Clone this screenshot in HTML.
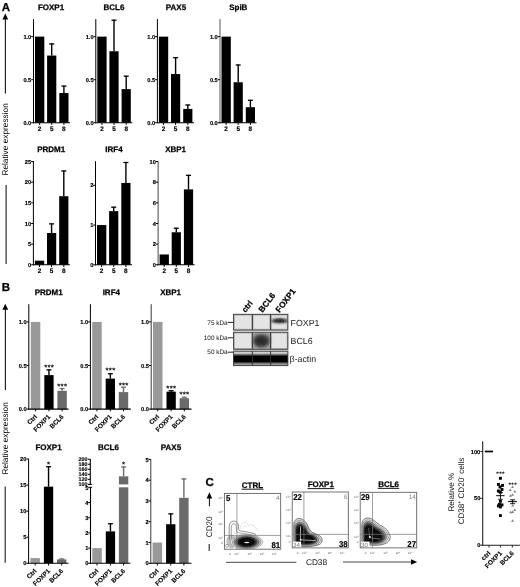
<!DOCTYPE html>
<html lang="en"><head><meta charset="utf-8"><title>Figure</title>
<style>html,body{margin:0;padding:0;background:#fff}svg{display:block}text{font-family:"Liberation Sans", sans-serif;text-rendering:geometricPrecision}</style></head><body>
<svg width="520" height="587" viewBox="0 0 520 587">
<defs><filter id="b1" x="-30%" y="-30%" width="160%" height="160%"><feGaussianBlur stdDeviation="0.9"/></filter><filter id="b2" x="-30%" y="-30%" width="160%" height="160%"><feGaussianBlur stdDeviation="1.6"/></filter><filter id="b03" x="-10%" y="-10%" width="120%" height="120%"><feGaussianBlur stdDeviation="0.35"/></filter><filter id="b07" x="-20%" y="-20%" width="140%" height="140%"><feGaussianBlur stdDeviation="0.8"/></filter><filter id="soft" x="0" y="0" width="520" height="587" filterUnits="userSpaceOnUse"><feGaussianBlur stdDeviation="0.35"/></filter><filter id="b05" x="-30%" y="-30%" width="160%" height="160%"><feGaussianBlur stdDeviation="0.5"/></filter></defs>
<rect x="0" y="0" width="520" height="587" fill="#fff" />
<g filter="url(#soft)">
<text x="1.8" y="10.6" font-size="11.5" text-anchor="start" font-weight="bold" fill="#000"  stroke="#000" stroke-width="0.25">A</text>
<text x="1.8" y="291.2" font-size="11.5" text-anchor="start" font-weight="bold" fill="#000"  stroke="#000" stroke-width="0.25">B</text>
<text x="205.5" y="486.4" font-size="11.5" text-anchor="start" font-weight="bold" fill="#000"  stroke="#000" stroke-width="0.25">C</text>
<polygon points="5.3,13.5 2.4,19.5 8.2,19.5" fill="#000"/>
<line x1="5.4" y1="18.5" x2="5.4" y2="93.5" stroke="#1a1a1a" stroke-width="1.1" />
<text transform="translate(7.5 139.4) rotate(-90)" font-size="8.3" text-anchor="middle" font-weight="normal" fill="#000">Relative expression</text>
<line x1="6.1" y1="185" x2="6.1" y2="264" stroke="#1a1a1a" stroke-width="1.1" />
<polygon points="5.3,303.7 2.4,309.7 8.2,309.7" fill="#000"/>
<line x1="5.4" y1="308.7" x2="5.4" y2="390" stroke="#1a1a1a" stroke-width="1.1" />
<text transform="translate(7.5 438.4) rotate(-90)" font-size="8.3" text-anchor="middle" font-weight="normal" fill="#000">Relative expression</text>
<line x1="5.2" y1="486.4" x2="5.2" y2="562.8" stroke="#1a1a1a" stroke-width="1.1" />
<text x="51" y="9.9" font-size="8" text-anchor="middle" font-weight="bold" fill="#000"  stroke="#000" stroke-width="0.25">FOXP1</text>
<rect x="35" y="36.62" width="9.3" height="86.08" fill="#000" />
<line x1="51.7" y1="55.55" x2="51.7" y2="43.5" stroke="#000" stroke-width="1.4" />
<line x1="49.2" y1="43.9" x2="54.2" y2="43.9" stroke="#000" stroke-width="1.3" />
<rect x="47.1" y="55.55" width="9.2" height="67.15" fill="#000" />
<line x1="63.9" y1="93" x2="63.9" y2="85.68" stroke="#000" stroke-width="1.4" />
<line x1="61.4" y1="86.08" x2="66.4" y2="86.08" stroke="#000" stroke-width="1.3" />
<rect x="59.3" y="93" width="9.2" height="29.7" fill="#000" />
<line x1="33.5" y1="19.1" x2="33.5" y2="123.2" stroke="#000" stroke-width="1" />
<line x1="33" y1="122.7" x2="70" y2="122.7" stroke="#000" stroke-width="1.1" />
<line x1="31.2" y1="122.7" x2="33.5" y2="122.7" stroke="#000" stroke-width="1" />
<text x="31.3" y="124.8" font-size="5.7" text-anchor="end" font-weight="bold" fill="#000"  stroke="#000" stroke-width="0.15">0.0</text>
<line x1="31.2" y1="79.66" x2="33.5" y2="79.66" stroke="#000" stroke-width="1" />
<text x="31.3" y="81.76" font-size="5.7" text-anchor="end" font-weight="bold" fill="#000"  stroke="#000" stroke-width="0.15">0.5</text>
<line x1="31.2" y1="36.62" x2="33.5" y2="36.62" stroke="#000" stroke-width="1" />
<text x="31.3" y="38.72" font-size="5.7" text-anchor="end" font-weight="bold" fill="#000"  stroke="#000" stroke-width="0.15">1.0</text>
<line x1="39.65" y1="122.7" x2="39.65" y2="124.9" stroke="#000" stroke-width="1" />
<text x="39.65" y="131.1" font-size="6.4" text-anchor="middle" font-weight="bold" fill="#000"  stroke="#000" stroke-width="0.15">2</text>
<line x1="51.7" y1="122.7" x2="51.7" y2="124.9" stroke="#000" stroke-width="1" />
<text x="51.7" y="131.1" font-size="6.4" text-anchor="middle" font-weight="bold" fill="#000"  stroke="#000" stroke-width="0.15">5</text>
<line x1="63.9" y1="122.7" x2="63.9" y2="124.9" stroke="#000" stroke-width="1" />
<text x="63.9" y="131.1" font-size="6.4" text-anchor="middle" font-weight="bold" fill="#000"  stroke="#000" stroke-width="0.15">8</text>
<text x="114" y="9.9" font-size="8" text-anchor="middle" font-weight="bold" fill="#000"  stroke="#000" stroke-width="0.25">BCL6</text>
<rect x="97.3" y="36.62" width="9.3" height="86.08" fill="#000" />
<line x1="114" y1="51.25" x2="114" y2="19.83" stroke="#000" stroke-width="1.4" />
<line x1="111.5" y1="20.23" x2="116.5" y2="20.23" stroke="#000" stroke-width="1.3" />
<rect x="109.4" y="51.25" width="9.2" height="71.45" fill="#000" />
<line x1="126.2" y1="89.13" x2="126.2" y2="75.78" stroke="#000" stroke-width="1.4" />
<line x1="123.7" y1="76.18" x2="128.7" y2="76.18" stroke="#000" stroke-width="1.3" />
<rect x="121.6" y="89.13" width="9.2" height="33.57" fill="#000" />
<line x1="95.8" y1="19.1" x2="95.8" y2="123.2" stroke="#000" stroke-width="1" />
<line x1="95.3" y1="122.7" x2="132.3" y2="122.7" stroke="#000" stroke-width="1.1" />
<line x1="93.5" y1="122.7" x2="95.8" y2="122.7" stroke="#000" stroke-width="1" />
<text x="93.6" y="124.8" font-size="5.7" text-anchor="end" font-weight="bold" fill="#000"  stroke="#000" stroke-width="0.15">0.0</text>
<line x1="93.5" y1="79.66" x2="95.8" y2="79.66" stroke="#000" stroke-width="1" />
<text x="93.6" y="81.76" font-size="5.7" text-anchor="end" font-weight="bold" fill="#000"  stroke="#000" stroke-width="0.15">0.5</text>
<line x1="93.5" y1="36.62" x2="95.8" y2="36.62" stroke="#000" stroke-width="1" />
<text x="93.6" y="38.72" font-size="5.7" text-anchor="end" font-weight="bold" fill="#000"  stroke="#000" stroke-width="0.15">1.0</text>
<line x1="101.95" y1="122.7" x2="101.95" y2="124.9" stroke="#000" stroke-width="1" />
<text x="101.95" y="131.1" font-size="6.4" text-anchor="middle" font-weight="bold" fill="#000"  stroke="#000" stroke-width="0.15">2</text>
<line x1="114" y1="122.7" x2="114" y2="124.9" stroke="#000" stroke-width="1" />
<text x="114" y="131.1" font-size="6.4" text-anchor="middle" font-weight="bold" fill="#000"  stroke="#000" stroke-width="0.15">5</text>
<line x1="126.2" y1="122.7" x2="126.2" y2="124.9" stroke="#000" stroke-width="1" />
<text x="126.2" y="131.1" font-size="6.4" text-anchor="middle" font-weight="bold" fill="#000"  stroke="#000" stroke-width="0.15">8</text>
<text x="176" y="9.9" font-size="8" text-anchor="middle" font-weight="bold" fill="#000"  stroke="#000" stroke-width="0.25">PAX5</text>
<rect x="158.9" y="36.62" width="9.3" height="86.08" fill="#000" />
<line x1="175.6" y1="74.06" x2="175.6" y2="57.28" stroke="#000" stroke-width="1.4" />
<line x1="173.1" y1="57.68" x2="178.1" y2="57.68" stroke="#000" stroke-width="1.3" />
<rect x="171" y="74.06" width="9.2" height="48.64" fill="#000" />
<line x1="187.8" y1="108.93" x2="187.8" y2="104.62" stroke="#000" stroke-width="1.4" />
<line x1="185.3" y1="105.02" x2="190.3" y2="105.02" stroke="#000" stroke-width="1.3" />
<rect x="183.2" y="108.93" width="9.2" height="13.77" fill="#000" />
<line x1="157.4" y1="19.1" x2="157.4" y2="123.2" stroke="#000" stroke-width="1" />
<line x1="156.9" y1="122.7" x2="193.9" y2="122.7" stroke="#000" stroke-width="1.1" />
<line x1="155.1" y1="122.7" x2="157.4" y2="122.7" stroke="#000" stroke-width="1" />
<text x="155.2" y="124.8" font-size="5.7" text-anchor="end" font-weight="bold" fill="#000"  stroke="#000" stroke-width="0.15">0.0</text>
<line x1="155.1" y1="79.66" x2="157.4" y2="79.66" stroke="#000" stroke-width="1" />
<text x="155.2" y="81.76" font-size="5.7" text-anchor="end" font-weight="bold" fill="#000"  stroke="#000" stroke-width="0.15">0.5</text>
<line x1="155.1" y1="36.62" x2="157.4" y2="36.62" stroke="#000" stroke-width="1" />
<text x="155.2" y="38.72" font-size="5.7" text-anchor="end" font-weight="bold" fill="#000"  stroke="#000" stroke-width="0.15">1.0</text>
<line x1="163.55" y1="122.7" x2="163.55" y2="124.9" stroke="#000" stroke-width="1" />
<text x="163.55" y="131.1" font-size="6.4" text-anchor="middle" font-weight="bold" fill="#000"  stroke="#000" stroke-width="0.15">2</text>
<line x1="175.6" y1="122.7" x2="175.6" y2="124.9" stroke="#000" stroke-width="1" />
<text x="175.6" y="131.1" font-size="6.4" text-anchor="middle" font-weight="bold" fill="#000"  stroke="#000" stroke-width="0.15">5</text>
<line x1="187.8" y1="122.7" x2="187.8" y2="124.9" stroke="#000" stroke-width="1" />
<text x="187.8" y="131.1" font-size="6.4" text-anchor="middle" font-weight="bold" fill="#000"  stroke="#000" stroke-width="0.15">8</text>
<text x="238.3" y="9.9" font-size="8" text-anchor="middle" font-weight="bold" fill="#000"  stroke="#000" stroke-width="0.25">SpiB</text>
<rect x="221.5" y="36.62" width="9.3" height="86.08" fill="#000" />
<line x1="238.2" y1="82.24" x2="238.2" y2="64.59" stroke="#000" stroke-width="1.4" />
<line x1="235.7" y1="64.99" x2="240.7" y2="64.99" stroke="#000" stroke-width="1.3" />
<rect x="233.6" y="82.24" width="9.2" height="40.46" fill="#000" />
<line x1="250.4" y1="107.2" x2="250.4" y2="99.89" stroke="#000" stroke-width="1.4" />
<line x1="247.9" y1="100.29" x2="252.9" y2="100.29" stroke="#000" stroke-width="1.3" />
<rect x="245.8" y="107.2" width="9.2" height="15.5" fill="#000" />
<line x1="220" y1="19.1" x2="220" y2="123.2" stroke="#585858" stroke-width="1" />
<line x1="219.5" y1="122.7" x2="256.5" y2="122.7" stroke="#000" stroke-width="1.1" />
<line x1="217.7" y1="122.7" x2="220" y2="122.7" stroke="#000" stroke-width="1" />
<text x="217.8" y="124.8" font-size="5.7" text-anchor="end" font-weight="bold" fill="#000"  stroke="#000" stroke-width="0.15">0.0</text>
<line x1="217.7" y1="79.66" x2="220" y2="79.66" stroke="#000" stroke-width="1" />
<text x="217.8" y="81.76" font-size="5.7" text-anchor="end" font-weight="bold" fill="#000"  stroke="#000" stroke-width="0.15">0.5</text>
<line x1="217.7" y1="36.62" x2="220" y2="36.62" stroke="#000" stroke-width="1" />
<text x="217.8" y="38.72" font-size="5.7" text-anchor="end" font-weight="bold" fill="#000"  stroke="#000" stroke-width="0.15">1.0</text>
<line x1="226.15" y1="122.7" x2="226.15" y2="124.9" stroke="#000" stroke-width="1" />
<text x="226.15" y="131.1" font-size="6.4" text-anchor="middle" font-weight="bold" fill="#000"  stroke="#000" stroke-width="0.15">2</text>
<line x1="238.2" y1="122.7" x2="238.2" y2="124.9" stroke="#000" stroke-width="1" />
<text x="238.2" y="131.1" font-size="6.4" text-anchor="middle" font-weight="bold" fill="#000"  stroke="#000" stroke-width="0.15">5</text>
<line x1="250.4" y1="122.7" x2="250.4" y2="124.9" stroke="#000" stroke-width="1" />
<text x="250.4" y="131.1" font-size="6.4" text-anchor="middle" font-weight="bold" fill="#000"  stroke="#000" stroke-width="0.15">8</text>
<text x="51.2" y="152" font-size="8" text-anchor="middle" font-weight="bold" fill="#000"  stroke="#000" stroke-width="0.25">PRDM1</text>
<rect x="34.9" y="260.67" width="9.3" height="4.13" fill="#000" />
<line x1="51.6" y1="232.98" x2="51.6" y2="223.48" stroke="#000" stroke-width="1.4" />
<line x1="49.1" y1="223.88" x2="54.1" y2="223.88" stroke="#000" stroke-width="1.3" />
<rect x="47" y="232.98" width="9.2" height="31.82" fill="#000" />
<line x1="63.8" y1="196.21" x2="63.8" y2="170.59" stroke="#000" stroke-width="1.4" />
<line x1="61.3" y1="170.99" x2="66.3" y2="170.99" stroke="#000" stroke-width="1.3" />
<rect x="59.2" y="196.21" width="9.2" height="68.59" fill="#000" />
<line x1="33.4" y1="161.2" x2="33.4" y2="265.3" stroke="#000" stroke-width="1" />
<line x1="32.9" y1="264.8" x2="69.9" y2="264.8" stroke="#000" stroke-width="1.1" />
<line x1="31.1" y1="264.8" x2="33.4" y2="264.8" stroke="#000" stroke-width="1" />
<text x="31.2" y="266.9" font-size="5.7" text-anchor="end" font-weight="bold" fill="#000"  stroke="#000" stroke-width="0.15">0</text>
<line x1="31.1" y1="244.14" x2="33.4" y2="244.14" stroke="#000" stroke-width="1" />
<text x="31.2" y="246.24" font-size="5.7" text-anchor="end" font-weight="bold" fill="#000"  stroke="#000" stroke-width="0.15">5</text>
<line x1="31.1" y1="223.48" x2="33.4" y2="223.48" stroke="#000" stroke-width="1" />
<text x="31.2" y="225.58" font-size="5.7" text-anchor="end" font-weight="bold" fill="#000"  stroke="#000" stroke-width="0.15">10</text>
<line x1="31.1" y1="202.82" x2="33.4" y2="202.82" stroke="#000" stroke-width="1" />
<text x="31.2" y="204.92" font-size="5.7" text-anchor="end" font-weight="bold" fill="#000"  stroke="#000" stroke-width="0.15">15</text>
<line x1="31.1" y1="182.16" x2="33.4" y2="182.16" stroke="#000" stroke-width="1" />
<text x="31.2" y="184.26" font-size="5.7" text-anchor="end" font-weight="bold" fill="#000"  stroke="#000" stroke-width="0.15">20</text>
<line x1="31.1" y1="161.5" x2="33.4" y2="161.5" stroke="#000" stroke-width="1" />
<text x="31.2" y="163.6" font-size="5.7" text-anchor="end" font-weight="bold" fill="#000"  stroke="#000" stroke-width="0.15">25</text>
<line x1="39.55" y1="264.8" x2="39.55" y2="267" stroke="#000" stroke-width="1" />
<text x="39.55" y="273.2" font-size="6.4" text-anchor="middle" font-weight="bold" fill="#000"  stroke="#000" stroke-width="0.15">2</text>
<line x1="51.6" y1="264.8" x2="51.6" y2="267" stroke="#000" stroke-width="1" />
<text x="51.6" y="273.2" font-size="6.4" text-anchor="middle" font-weight="bold" fill="#000"  stroke="#000" stroke-width="0.15">5</text>
<line x1="63.8" y1="264.8" x2="63.8" y2="267" stroke="#000" stroke-width="1" />
<text x="63.8" y="273.2" font-size="6.4" text-anchor="middle" font-weight="bold" fill="#000"  stroke="#000" stroke-width="0.15">8</text>
<text x="114" y="152" font-size="8" text-anchor="middle" font-weight="bold" fill="#000"  stroke="#000" stroke-width="0.25">IRF4</text>
<rect x="97" y="225.07" width="9.3" height="39.73" fill="#000" />
<line x1="113.7" y1="211.16" x2="113.7" y2="206.79" stroke="#000" stroke-width="1.4" />
<line x1="111.2" y1="207.19" x2="116.2" y2="207.19" stroke="#000" stroke-width="1.3" />
<rect x="109.1" y="211.16" width="9.2" height="53.64" fill="#000" />
<line x1="125.9" y1="182.95" x2="125.9" y2="162.1" stroke="#000" stroke-width="1.4" />
<line x1="123.4" y1="162.5" x2="128.4" y2="162.5" stroke="#000" stroke-width="1.3" />
<rect x="121.3" y="182.95" width="9.2" height="81.85" fill="#000" />
<line x1="95.5" y1="161.2" x2="95.5" y2="265.3" stroke="#000" stroke-width="1" />
<line x1="95" y1="264.8" x2="132" y2="264.8" stroke="#000" stroke-width="1.1" />
<line x1="93.2" y1="264.8" x2="95.5" y2="264.8" stroke="#000" stroke-width="1" />
<text x="93.3" y="266.9" font-size="5.7" text-anchor="end" font-weight="bold" fill="#000"  stroke="#000" stroke-width="0.15">0</text>
<line x1="93.2" y1="225.07" x2="95.5" y2="225.07" stroke="#000" stroke-width="1" />
<text x="93.3" y="227.17" font-size="5.7" text-anchor="end" font-weight="bold" fill="#000"  stroke="#000" stroke-width="0.15">1</text>
<line x1="93.2" y1="185.34" x2="95.5" y2="185.34" stroke="#000" stroke-width="1" />
<text x="93.3" y="187.44" font-size="5.7" text-anchor="end" font-weight="bold" fill="#000"  stroke="#000" stroke-width="0.15">2</text>
<line x1="101.65" y1="264.8" x2="101.65" y2="267" stroke="#000" stroke-width="1" />
<text x="101.65" y="273.2" font-size="6.4" text-anchor="middle" font-weight="bold" fill="#000"  stroke="#000" stroke-width="0.15">2</text>
<line x1="113.7" y1="264.8" x2="113.7" y2="267" stroke="#000" stroke-width="1" />
<text x="113.7" y="273.2" font-size="6.4" text-anchor="middle" font-weight="bold" fill="#000"  stroke="#000" stroke-width="0.15">5</text>
<line x1="125.9" y1="264.8" x2="125.9" y2="267" stroke="#000" stroke-width="1" />
<text x="125.9" y="273.2" font-size="6.4" text-anchor="middle" font-weight="bold" fill="#000"  stroke="#000" stroke-width="0.15">8</text>
<text x="175.6" y="152" font-size="8" text-anchor="middle" font-weight="bold" fill="#000"  stroke="#000" stroke-width="0.25">XBP1</text>
<rect x="159.6" y="254.47" width="9.3" height="10.33" fill="#000" />
<line x1="176.3" y1="232.26" x2="176.3" y2="227.82" stroke="#000" stroke-width="1.4" />
<line x1="173.8" y1="228.22" x2="178.8" y2="228.22" stroke="#000" stroke-width="1.3" />
<rect x="171.7" y="232.26" width="9.2" height="32.54" fill="#000" />
<line x1="188.5" y1="189.39" x2="188.5" y2="174.93" stroke="#000" stroke-width="1.4" />
<line x1="186" y1="175.33" x2="191" y2="175.33" stroke="#000" stroke-width="1.3" />
<rect x="183.9" y="189.39" width="9.2" height="75.41" fill="#000" />
<line x1="158.1" y1="161.2" x2="158.1" y2="265.3" stroke="#444" stroke-width="1" />
<line x1="157.6" y1="264.8" x2="194.6" y2="264.8" stroke="#000" stroke-width="1.1" />
<line x1="155.8" y1="264.8" x2="158.1" y2="264.8" stroke="#000" stroke-width="1" />
<text x="155.9" y="266.9" font-size="5.7" text-anchor="end" font-weight="bold" fill="#000"  stroke="#000" stroke-width="0.15">0</text>
<line x1="155.8" y1="244.14" x2="158.1" y2="244.14" stroke="#000" stroke-width="1" />
<text x="155.9" y="246.24" font-size="5.7" text-anchor="end" font-weight="bold" fill="#000"  stroke="#000" stroke-width="0.15">2</text>
<line x1="155.8" y1="223.48" x2="158.1" y2="223.48" stroke="#000" stroke-width="1" />
<text x="155.9" y="225.58" font-size="5.7" text-anchor="end" font-weight="bold" fill="#000"  stroke="#000" stroke-width="0.15">4</text>
<line x1="155.8" y1="202.82" x2="158.1" y2="202.82" stroke="#000" stroke-width="1" />
<text x="155.9" y="204.92" font-size="5.7" text-anchor="end" font-weight="bold" fill="#000"  stroke="#000" stroke-width="0.15">6</text>
<line x1="155.8" y1="182.16" x2="158.1" y2="182.16" stroke="#000" stroke-width="1" />
<text x="155.9" y="184.26" font-size="5.7" text-anchor="end" font-weight="bold" fill="#000"  stroke="#000" stroke-width="0.15">8</text>
<line x1="155.8" y1="161.5" x2="158.1" y2="161.5" stroke="#000" stroke-width="1" />
<text x="155.9" y="163.6" font-size="5.7" text-anchor="end" font-weight="bold" fill="#000"  stroke="#000" stroke-width="0.15">10</text>
<line x1="164.25" y1="264.8" x2="164.25" y2="267" stroke="#000" stroke-width="1" />
<text x="164.25" y="273.2" font-size="6.4" text-anchor="middle" font-weight="bold" fill="#000"  stroke="#000" stroke-width="0.15">2</text>
<line x1="176.3" y1="264.8" x2="176.3" y2="267" stroke="#000" stroke-width="1" />
<text x="176.3" y="273.2" font-size="6.4" text-anchor="middle" font-weight="bold" fill="#000"  stroke="#000" stroke-width="0.15">5</text>
<line x1="188.5" y1="264.8" x2="188.5" y2="267" stroke="#000" stroke-width="1" />
<text x="188.5" y="273.2" font-size="6.4" text-anchor="middle" font-weight="bold" fill="#000"  stroke="#000" stroke-width="0.15">8</text>
<text x="48.7" y="295.2" font-size="8" text-anchor="middle" font-weight="bold" fill="#000"  stroke="#000" stroke-width="0.25">PRDM1</text>
<rect x="30.8" y="321.93" width="9.5" height="87.17" fill="#999" />
<line x1="48.95" y1="375.11" x2="48.95" y2="369.44" stroke="#000" stroke-width="1.4" />
<line x1="46.45" y1="369.84" x2="51.45" y2="369.84" stroke="#000" stroke-width="1.3" />
<rect x="44.3" y="375.11" width="9.3" height="34" fill="#000" />
<line x1="62.1" y1="390.8" x2="62.1" y2="388.18" stroke="#6a6a6a" stroke-width="1.4" />
<line x1="59.6" y1="388.58" x2="64.6" y2="388.58" stroke="#6a6a6a" stroke-width="1.3" />
<rect x="57.4" y="390.8" width="9.4" height="18.31" fill="#6a6a6a" />
<line x1="28.8" y1="304.2" x2="28.8" y2="409.6" stroke="#000" stroke-width="1" />
<line x1="28.3" y1="409.1" x2="68.5" y2="409.1" stroke="#000" stroke-width="1.1" />
<line x1="26.5" y1="409.1" x2="28.8" y2="409.1" stroke="#000" stroke-width="1" />
<text x="26.6" y="411.2" font-size="5.7" text-anchor="end" font-weight="bold" fill="#000"  stroke="#000" stroke-width="0.15">0.0</text>
<line x1="26.5" y1="365.52" x2="28.8" y2="365.52" stroke="#000" stroke-width="1" />
<text x="26.6" y="367.62" font-size="5.7" text-anchor="end" font-weight="bold" fill="#000"  stroke="#000" stroke-width="0.15">0.5</text>
<line x1="26.5" y1="321.93" x2="28.8" y2="321.93" stroke="#000" stroke-width="1" />
<text x="26.6" y="324.03" font-size="5.7" text-anchor="end" font-weight="bold" fill="#000"  stroke="#000" stroke-width="0.15">1.0</text>
<line x1="35.55" y1="409.1" x2="35.55" y2="411.3" stroke="#000" stroke-width="1" />
<text transform="translate(37.45 417.3) rotate(-45)" font-size="6.4" text-anchor="end" font-weight="bold" fill="#000" stroke="#000" stroke-width="0.15">Ctrl</text>
<line x1="48.95" y1="409.1" x2="48.95" y2="411.3" stroke="#000" stroke-width="1" />
<text transform="translate(50.85 417.3) rotate(-45)" font-size="6.4" text-anchor="end" font-weight="bold" fill="#000" stroke="#000" stroke-width="0.15">FOXP1</text>
<line x1="62.1" y1="409.1" x2="62.1" y2="411.3" stroke="#000" stroke-width="1" />
<text transform="translate(64 417.3) rotate(-45)" font-size="6.4" text-anchor="end" font-weight="bold" fill="#000" stroke="#000" stroke-width="0.15">BCL6</text>
<text x="49.1" y="369.85" font-size="7.8" text-anchor="middle" font-weight="normal" fill="#000" letter-spacing="0.25" stroke="#000" stroke-width="0.12">***</text>
<text x="62.25" y="388.85" font-size="7.8" text-anchor="middle" font-weight="normal" fill="#000" letter-spacing="0.25" stroke="#000" stroke-width="0.12">***</text>
<text x="111.3" y="295.2" font-size="8" text-anchor="middle" font-weight="bold" fill="#000"  stroke="#000" stroke-width="0.25">IRF4</text>
<rect x="92.2" y="321.93" width="9.5" height="87.17" fill="#999" />
<line x1="110.35" y1="378.59" x2="110.35" y2="373.36" stroke="#000" stroke-width="1.4" />
<line x1="107.85" y1="373.76" x2="112.85" y2="373.76" stroke="#000" stroke-width="1.3" />
<rect x="105.7" y="378.59" width="9.3" height="30.51" fill="#000" />
<line x1="123.5" y1="392.1" x2="123.5" y2="386.87" stroke="#6a6a6a" stroke-width="1.4" />
<line x1="121" y1="387.27" x2="126" y2="387.27" stroke="#6a6a6a" stroke-width="1.3" />
<rect x="118.8" y="392.1" width="9.4" height="17" fill="#6a6a6a" />
<line x1="90.4" y1="304.2" x2="90.4" y2="409.6" stroke="#000" stroke-width="1" />
<line x1="89.9" y1="409.1" x2="130.8" y2="409.1" stroke="#000" stroke-width="1.1" />
<line x1="88.1" y1="409.1" x2="90.4" y2="409.1" stroke="#000" stroke-width="1" />
<text x="88.2" y="411.2" font-size="5.7" text-anchor="end" font-weight="bold" fill="#000"  stroke="#000" stroke-width="0.15">0.0</text>
<line x1="88.1" y1="365.52" x2="90.4" y2="365.52" stroke="#000" stroke-width="1" />
<text x="88.2" y="367.62" font-size="5.7" text-anchor="end" font-weight="bold" fill="#000"  stroke="#000" stroke-width="0.15">0.5</text>
<line x1="88.1" y1="321.93" x2="90.4" y2="321.93" stroke="#000" stroke-width="1" />
<text x="88.2" y="324.03" font-size="5.7" text-anchor="end" font-weight="bold" fill="#000"  stroke="#000" stroke-width="0.15">1.0</text>
<line x1="96.95" y1="409.1" x2="96.95" y2="411.3" stroke="#000" stroke-width="1" />
<text transform="translate(98.85 417.3) rotate(-45)" font-size="6.4" text-anchor="end" font-weight="bold" fill="#000" stroke="#000" stroke-width="0.15">Ctrl</text>
<line x1="110.35" y1="409.1" x2="110.35" y2="411.3" stroke="#000" stroke-width="1" />
<text transform="translate(112.25 417.3) rotate(-45)" font-size="6.4" text-anchor="end" font-weight="bold" fill="#000" stroke="#000" stroke-width="0.15">FOXP1</text>
<line x1="123.5" y1="409.1" x2="123.5" y2="411.3" stroke="#000" stroke-width="1" />
<text transform="translate(125.4 417.3) rotate(-45)" font-size="6.4" text-anchor="end" font-weight="bold" fill="#000" stroke="#000" stroke-width="0.15">BCL6</text>
<text x="110.5" y="373.05" font-size="7.8" text-anchor="middle" font-weight="normal" fill="#000" letter-spacing="0.25" stroke="#000" stroke-width="0.12">***</text>
<text x="123.65" y="387.65" font-size="7.8" text-anchor="middle" font-weight="normal" fill="#000" letter-spacing="0.25" stroke="#000" stroke-width="0.12">***</text>
<text x="170.6" y="295.2" font-size="8" text-anchor="middle" font-weight="bold" fill="#000"  stroke="#000" stroke-width="0.25">XBP1</text>
<rect x="153" y="321.93" width="9.5" height="87.17" fill="#999" />
<line x1="171.15" y1="391.67" x2="171.15" y2="390.36" stroke="#000" stroke-width="1.4" />
<line x1="168.65" y1="390.76" x2="173.65" y2="390.76" stroke="#000" stroke-width="1.3" />
<rect x="166.5" y="391.67" width="9.3" height="17.43" fill="#000" />
<line x1="184.3" y1="398.2" x2="184.3" y2="396.9" stroke="#6a6a6a" stroke-width="1.4" />
<line x1="181.8" y1="397.3" x2="186.8" y2="397.3" stroke="#6a6a6a" stroke-width="1.3" />
<rect x="179.6" y="398.2" width="9.4" height="10.9" fill="#6a6a6a" />
<line x1="151.2" y1="304.2" x2="151.2" y2="409.6" stroke="#3a3a3a" stroke-width="1" />
<line x1="150.7" y1="409.1" x2="191.5" y2="409.1" stroke="#000" stroke-width="1.1" />
<line x1="148.9" y1="409.1" x2="151.2" y2="409.1" stroke="#000" stroke-width="1" />
<text x="149" y="411.2" font-size="5.7" text-anchor="end" font-weight="bold" fill="#000"  stroke="#000" stroke-width="0.15">0.0</text>
<line x1="148.9" y1="365.52" x2="151.2" y2="365.52" stroke="#000" stroke-width="1" />
<text x="149" y="367.62" font-size="5.7" text-anchor="end" font-weight="bold" fill="#000"  stroke="#000" stroke-width="0.15">0.5</text>
<line x1="148.9" y1="321.93" x2="151.2" y2="321.93" stroke="#000" stroke-width="1" />
<text x="149" y="324.03" font-size="5.7" text-anchor="end" font-weight="bold" fill="#000"  stroke="#000" stroke-width="0.15">1.0</text>
<line x1="157.75" y1="409.1" x2="157.75" y2="411.3" stroke="#000" stroke-width="1" />
<text transform="translate(159.65 417.3) rotate(-45)" font-size="6.4" text-anchor="end" font-weight="bold" fill="#000" stroke="#000" stroke-width="0.15">Ctrl</text>
<line x1="171.15" y1="409.1" x2="171.15" y2="411.3" stroke="#000" stroke-width="1" />
<text transform="translate(173.05 417.3) rotate(-45)" font-size="6.4" text-anchor="end" font-weight="bold" fill="#000" stroke="#000" stroke-width="0.15">FOXP1</text>
<line x1="184.3" y1="409.1" x2="184.3" y2="411.3" stroke="#000" stroke-width="1" />
<text transform="translate(186.2 417.3) rotate(-45)" font-size="6.4" text-anchor="end" font-weight="bold" fill="#000" stroke="#000" stroke-width="0.15">BCL6</text>
<text x="171.3" y="390.85" font-size="7.8" text-anchor="middle" font-weight="normal" fill="#000" letter-spacing="0.25" stroke="#000" stroke-width="0.12">***</text>
<text x="184.45" y="397.35" font-size="7.8" text-anchor="middle" font-weight="normal" fill="#000" letter-spacing="0.25" stroke="#000" stroke-width="0.12">***</text>
<text x="48.5" y="450.3" font-size="8" text-anchor="middle" font-weight="bold" fill="#000"  stroke="#000" stroke-width="0.25">FOXP1</text>
<rect x="30.4" y="558.08" width="9.5" height="5.22" fill="#999" />
<line x1="48.55" y1="486.64" x2="48.55" y2="466.3" stroke="#000" stroke-width="1.4" />
<line x1="46.05" y1="466.7" x2="51.05" y2="466.7" stroke="#000" stroke-width="1.3" />
<rect x="43.9" y="486.64" width="9.3" height="76.66" fill="#000" />
<line x1="61.7" y1="559.39" x2="61.7" y2="558.61" stroke="#6a6a6a" stroke-width="1.4" />
<line x1="59.2" y1="559.01" x2="64.2" y2="559.01" stroke="#6a6a6a" stroke-width="1.3" />
<rect x="57" y="559.39" width="9.4" height="3.91" fill="#6a6a6a" />
<line x1="28.6" y1="458.7" x2="28.6" y2="563.8" stroke="#000" stroke-width="1" />
<line x1="28.1" y1="563.3" x2="68.5" y2="563.3" stroke="#000" stroke-width="1.1" />
<line x1="26.3" y1="563.3" x2="28.6" y2="563.3" stroke="#000" stroke-width="1" />
<text x="26.4" y="565.4" font-size="5.7" text-anchor="end" font-weight="bold" fill="#000"  stroke="#000" stroke-width="0.15">0</text>
<line x1="26.3" y1="537.22" x2="28.6" y2="537.22" stroke="#000" stroke-width="1" />
<text x="26.4" y="539.32" font-size="5.7" text-anchor="end" font-weight="bold" fill="#000"  stroke="#000" stroke-width="0.15">5</text>
<line x1="26.3" y1="511.15" x2="28.6" y2="511.15" stroke="#000" stroke-width="1" />
<text x="26.4" y="513.25" font-size="5.7" text-anchor="end" font-weight="bold" fill="#000"  stroke="#000" stroke-width="0.15">10</text>
<line x1="26.3" y1="485.07" x2="28.6" y2="485.07" stroke="#000" stroke-width="1" />
<text x="26.4" y="487.18" font-size="5.7" text-anchor="end" font-weight="bold" fill="#000"  stroke="#000" stroke-width="0.15">15</text>
<line x1="26.3" y1="459" x2="28.6" y2="459" stroke="#000" stroke-width="1" />
<text x="26.4" y="461.1" font-size="5.7" text-anchor="end" font-weight="bold" fill="#000"  stroke="#000" stroke-width="0.15">20</text>
<line x1="35.15" y1="563.3" x2="35.15" y2="565.5" stroke="#000" stroke-width="1" />
<text transform="translate(37.05 571.5) rotate(-45)" font-size="6.4" text-anchor="end" font-weight="bold" fill="#000" stroke="#000" stroke-width="0.15">Ctrl</text>
<line x1="48.55" y1="563.3" x2="48.55" y2="565.5" stroke="#000" stroke-width="1" />
<text transform="translate(50.45 571.5) rotate(-45)" font-size="6.4" text-anchor="end" font-weight="bold" fill="#000" stroke="#000" stroke-width="0.15">FOXP1</text>
<line x1="61.7" y1="563.3" x2="61.7" y2="565.5" stroke="#000" stroke-width="1" />
<text transform="translate(63.6 571.5) rotate(-45)" font-size="6.4" text-anchor="end" font-weight="bold" fill="#000" stroke="#000" stroke-width="0.15">BCL6</text>
<text x="48.7" y="466.85" font-size="7.8" text-anchor="middle" font-weight="normal" fill="#000" letter-spacing="0.25" stroke="#000" stroke-width="0.12">*</text>
<text x="108.5" y="450.3" font-size="8" text-anchor="middle" font-weight="bold" fill="#000"  stroke="#000" stroke-width="0.25">BCL6</text>
<rect x="92.3" y="548.1" width="9.5" height="15.2" fill="#999" />
<line x1="110.45" y1="531.38" x2="110.45" y2="523.32" stroke="#000" stroke-width="1.4" />
<line x1="107.95" y1="523.72" x2="112.95" y2="523.72" stroke="#000" stroke-width="1.3" />
<rect x="105.8" y="531.38" width="9.3" height="31.92" fill="#000" />
<rect x="118.9" y="487.3" width="9.4" height="76" fill="#6a6a6a" />
<rect x="118.9" y="476.34" width="9.4" height="8.06" fill="#6a6a6a" />
<line x1="123.6" y1="476.34" x2="123.6" y2="466.51" stroke="#6a6a6a" stroke-width="1.4" />
<line x1="121.1" y1="466.91" x2="126.1" y2="466.91" stroke="#6a6a6a" stroke-width="1.3" />
<text x="123.75" y="466.85" font-size="7.8" text-anchor="middle" font-weight="normal" fill="#000" letter-spacing="0.25" stroke="#000" stroke-width="0.12">*</text>
<line x1="90.5" y1="487.3" x2="90.5" y2="563.8" stroke="#000" stroke-width="1.1" />
<line x1="90.3" y1="458.9" x2="90.3" y2="484.4" stroke="#000" stroke-width="1.1" />
<line x1="88.1" y1="484.4" x2="92.1" y2="484.4" stroke="#000" stroke-width="1" />
<line x1="88.1" y1="487.3" x2="92.1" y2="487.3" stroke="#000" stroke-width="1" />
<line x1="90" y1="563.3" x2="130.4" y2="563.3" stroke="#000" stroke-width="1.1" />
<line x1="88.2" y1="563.3" x2="90.5" y2="563.3" stroke="#000" stroke-width="1" />
<text x="88.3" y="565.4" font-size="5.7" text-anchor="end" font-weight="bold" fill="#000"  stroke="#000" stroke-width="0.15">0</text>
<line x1="88.2" y1="548.1" x2="90.5" y2="548.1" stroke="#000" stroke-width="1" />
<text x="88.3" y="550.2" font-size="5.7" text-anchor="end" font-weight="bold" fill="#000"  stroke="#000" stroke-width="0.15">1</text>
<line x1="88.2" y1="532.9" x2="90.5" y2="532.9" stroke="#000" stroke-width="1" />
<text x="88.3" y="535" font-size="5.7" text-anchor="end" font-weight="bold" fill="#000"  stroke="#000" stroke-width="0.15">2</text>
<line x1="88.2" y1="517.7" x2="90.5" y2="517.7" stroke="#000" stroke-width="1" />
<text x="88.3" y="519.8" font-size="5.7" text-anchor="end" font-weight="bold" fill="#000"  stroke="#000" stroke-width="0.15">3</text>
<line x1="88.2" y1="502.5" x2="90.5" y2="502.5" stroke="#000" stroke-width="1" />
<text x="88.3" y="504.6" font-size="5.7" text-anchor="end" font-weight="bold" fill="#000"  stroke="#000" stroke-width="0.15">4</text>
<text x="88.3" y="489.9" font-size="5.7" text-anchor="end" font-weight="bold" fill="#000"  stroke="#000" stroke-width="0.15">5</text>
<line x1="88" y1="484.4" x2="90.3" y2="484.4" stroke="#000" stroke-width="1" />
<text x="87.5" y="486.4" font-size="5.4" text-anchor="end" font-weight="bold" fill="#000"  stroke="#000" stroke-width="0.15">100</text>
<line x1="88" y1="479.36" x2="90.3" y2="479.36" stroke="#000" stroke-width="1" />
<text x="87.5" y="481.36" font-size="5.4" text-anchor="end" font-weight="bold" fill="#000"  stroke="#000" stroke-width="0.15">120</text>
<line x1="88" y1="474.32" x2="90.3" y2="474.32" stroke="#000" stroke-width="1" />
<text x="87.5" y="476.32" font-size="5.4" text-anchor="end" font-weight="bold" fill="#000"  stroke="#000" stroke-width="0.15">140</text>
<line x1="88" y1="469.28" x2="90.3" y2="469.28" stroke="#000" stroke-width="1" />
<text x="87.5" y="471.28" font-size="5.4" text-anchor="end" font-weight="bold" fill="#000"  stroke="#000" stroke-width="0.15">160</text>
<line x1="88" y1="464.24" x2="90.3" y2="464.24" stroke="#000" stroke-width="1" />
<text x="87.5" y="466.24" font-size="5.4" text-anchor="end" font-weight="bold" fill="#000"  stroke="#000" stroke-width="0.15">180</text>
<line x1="88" y1="459.2" x2="90.3" y2="459.2" stroke="#000" stroke-width="1" />
<text x="87.5" y="461.2" font-size="5.4" text-anchor="end" font-weight="bold" fill="#000"  stroke="#000" stroke-width="0.15">200</text>
<line x1="97.05" y1="563.3" x2="97.05" y2="565.5" stroke="#000" stroke-width="1" />
<text transform="translate(98.95 571.5) rotate(-45)" font-size="6.4" text-anchor="end" font-weight="bold" fill="#000" stroke="#000" stroke-width="0.15">Ctrl</text>
<line x1="110.45" y1="563.3" x2="110.45" y2="565.5" stroke="#000" stroke-width="1" />
<text transform="translate(112.35 571.5) rotate(-45)" font-size="6.4" text-anchor="end" font-weight="bold" fill="#000" stroke="#000" stroke-width="0.15">FOXP1</text>
<line x1="123.6" y1="563.3" x2="123.6" y2="565.5" stroke="#000" stroke-width="1" />
<text transform="translate(125.5 571.5) rotate(-45)" font-size="6.4" text-anchor="end" font-weight="bold" fill="#000" stroke="#000" stroke-width="0.15">BCL6</text>
<text x="171" y="450.3" font-size="8" text-anchor="middle" font-weight="bold" fill="#000"  stroke="#000" stroke-width="0.25">PAX5</text>
<rect x="152.6" y="542.52" width="9.5" height="20.78" fill="#999" />
<line x1="170.75" y1="524.23" x2="170.75" y2="513.43" stroke="#000" stroke-width="1.4" />
<line x1="168.25" y1="513.83" x2="173.25" y2="513.83" stroke="#000" stroke-width="1.3" />
<rect x="166.1" y="524.23" width="9.3" height="39.07" fill="#000" />
<line x1="183.9" y1="497.84" x2="183.9" y2="478.52" stroke="#6a6a6a" stroke-width="1.4" />
<line x1="181.4" y1="478.92" x2="186.4" y2="478.92" stroke="#6a6a6a" stroke-width="1.3" />
<rect x="179.2" y="497.84" width="9.4" height="65.46" fill="#6a6a6a" />
<line x1="150.8" y1="459.1" x2="150.8" y2="563.8" stroke="#3a3a3a" stroke-width="1" />
<line x1="150.3" y1="563.3" x2="191.5" y2="563.3" stroke="#000" stroke-width="1.1" />
<line x1="148.5" y1="563.3" x2="150.8" y2="563.3" stroke="#000" stroke-width="1" />
<text x="148.6" y="565.4" font-size="5.7" text-anchor="end" font-weight="bold" fill="#000"  stroke="#000" stroke-width="0.15">0</text>
<line x1="148.5" y1="542.52" x2="150.8" y2="542.52" stroke="#000" stroke-width="1" />
<text x="148.6" y="544.62" font-size="5.7" text-anchor="end" font-weight="bold" fill="#000"  stroke="#000" stroke-width="0.15">1</text>
<line x1="148.5" y1="521.74" x2="150.8" y2="521.74" stroke="#000" stroke-width="1" />
<text x="148.6" y="523.84" font-size="5.7" text-anchor="end" font-weight="bold" fill="#000"  stroke="#000" stroke-width="0.15">2</text>
<line x1="148.5" y1="500.96" x2="150.8" y2="500.96" stroke="#000" stroke-width="1" />
<text x="148.6" y="503.06" font-size="5.7" text-anchor="end" font-weight="bold" fill="#000"  stroke="#000" stroke-width="0.15">3</text>
<line x1="148.5" y1="480.18" x2="150.8" y2="480.18" stroke="#000" stroke-width="1" />
<text x="148.6" y="482.28" font-size="5.7" text-anchor="end" font-weight="bold" fill="#000"  stroke="#000" stroke-width="0.15">4</text>
<line x1="148.5" y1="459.4" x2="150.8" y2="459.4" stroke="#000" stroke-width="1" />
<text x="148.6" y="461.5" font-size="5.7" text-anchor="end" font-weight="bold" fill="#000"  stroke="#000" stroke-width="0.15">5</text>
<line x1="157.35" y1="563.3" x2="157.35" y2="565.5" stroke="#000" stroke-width="1" />
<text transform="translate(159.25 571.5) rotate(-45)" font-size="6.4" text-anchor="end" font-weight="bold" fill="#000" stroke="#000" stroke-width="0.15">Ctrl</text>
<line x1="170.75" y1="563.3" x2="170.75" y2="565.5" stroke="#000" stroke-width="1" />
<text transform="translate(172.65 571.5) rotate(-45)" font-size="6.4" text-anchor="end" font-weight="bold" fill="#000" stroke="#000" stroke-width="0.15">FOXP1</text>
<line x1="183.9" y1="563.3" x2="183.9" y2="565.5" stroke="#000" stroke-width="1" />
<text transform="translate(185.8 571.5) rotate(-45)" font-size="6.4" text-anchor="end" font-weight="bold" fill="#000" stroke="#000" stroke-width="0.15">BCL6</text>
<g id="blot">
<clipPath id="cp0"><rect x="233.6" y="314.3" width="54.3" height="15.8"/></clipPath>
<rect x="233.6" y="314.3" width="54.3" height="15.8" fill="#b4b4b4" />
<g clip-path="url(#cp0)">
<rect x="234.8" y="315.6" width="16.4" height="13.2" fill="#e4e4e4" filter="url(#b05)"/>
<rect x="253.6" y="315.6" width="15.8" height="13.2" fill="#e4e4e4" filter="url(#b05)"/>
<rect x="271.8" y="315.6" width="14.9" height="13.2" fill="#e4e4e4" filter="url(#b05)"/>
<ellipse cx="279.6" cy="320.8" rx="9" ry="2.6" fill="#555" filter="url(#b1)"/>
<ellipse cx="279.8" cy="320.8" rx="5" ry="1.3" fill="#1a1a1a" filter="url(#b1)"/>
</g>
<rect x="233.6" y="314.3" width="54.3" height="15.8" fill="none" stroke="#3a3a3a" stroke-width="0.95"/>
<line x1="252.4" y1="314.3" x2="252.4" y2="330.1" stroke="#333" stroke-width="0.95" />
<line x1="270.6" y1="314.3" x2="270.6" y2="330.1" stroke="#333" stroke-width="0.95" />
<clipPath id="cp1"><rect x="233.6" y="332.2" width="54.3" height="17.1"/></clipPath>
<rect x="233.6" y="332.2" width="54.3" height="17.1" fill="#b4b4b4" />
<g clip-path="url(#cp1)">
<rect x="234.8" y="333.5" width="16.4" height="14.5" fill="#e4e4e4" filter="url(#b05)"/>
<rect x="271.8" y="333.5" width="14.9" height="14.5" fill="#e4e4e4" filter="url(#b05)"/>
<rect x="253.2" y="333.2" width="16.8" height="15.2" fill="#9a9a9a" filter="url(#b07)"/>
<ellipse cx="261.4" cy="340.8" rx="8.6" ry="6.6" fill="#444" filter="url(#b2)"/>
<ellipse cx="261.2" cy="340.8" rx="5.5" ry="4" fill="#2c2c2c" filter="url(#b2)"/>
</g>
<rect x="233.6" y="332.2" width="54.3" height="17.1" fill="none" stroke="#3a3a3a" stroke-width="0.95"/>
<line x1="252.4" y1="332.2" x2="252.4" y2="349.3" stroke="#333" stroke-width="0.95" />
<line x1="270.6" y1="332.2" x2="270.6" y2="349.3" stroke="#333" stroke-width="0.95" />
<clipPath id="cp2"><rect x="233.6" y="351.1" width="54.3" height="14.5"/></clipPath>
<rect x="233.6" y="351.1" width="54.3" height="14.5" fill="#a8a8a8" />
<g clip-path="url(#cp2)">
<rect x="230.6" y="351.8" width="60.3" height="2.6" fill="#d0d0d0" filter="url(#b05)"/>
<rect x="230.6" y="354.9" width="60.3" height="8.0" fill="#000" filter="url(#b07)"/>
<rect x="230.6" y="356" width="60.3" height="6" fill="#000"/>
</g>
<rect x="233.6" y="351.1" width="54.3" height="14.5" fill="none" stroke="#3a3a3a" stroke-width="0.95"/>
<line x1="252.4" y1="351.1" x2="252.4" y2="365.6" stroke="#333" stroke-width="0.95" />
<line x1="270.6" y1="351.1" x2="270.6" y2="365.6" stroke="#333" stroke-width="0.95" />
<text x="232.8" y="324.6" font-size="6.4" text-anchor="end" font-weight="normal" fill="#111" dx="-5.2">75 kDa</text>
<text x="232.8" y="340" font-size="6.4" text-anchor="end" font-weight="normal" fill="#111" dx="-5.2">100 kDa</text>
<text x="232.8" y="354.3" font-size="6.4" text-anchor="end" font-weight="normal" fill="#111" dx="-5.2">50 kDa</text>
<line x1="227.6" y1="322.4" x2="233.2" y2="322.4" stroke="#222" stroke-width="1" />
<line x1="227.6" y1="337.8" x2="233.2" y2="337.8" stroke="#222" stroke-width="1" />
<line x1="227.6" y1="352.2" x2="233.2" y2="352.2" stroke="#222" stroke-width="1" />
<text transform="translate(245.6 313) rotate(-52)" font-size="7.9" text-anchor="start" font-weight="bold" fill="#000" stroke="#000" stroke-width="0.25">ctrl</text>
<text transform="translate(262.6 313) rotate(-53)" font-size="8.4" text-anchor="start" font-weight="bold" fill="#000" stroke="#000" stroke-width="0.25">BCL6</text>
<text transform="translate(279.6 313.2) rotate(-53)" font-size="8.4" text-anchor="start" font-weight="bold" fill="#000" stroke="#000" stroke-width="0.25">FOXP1</text>
<text x="290.6" y="326.2" font-size="8.8" text-anchor="start" font-weight="normal" fill="#222" >FOXP1</text>
<text x="290.6" y="344.2" font-size="8.8" text-anchor="start" font-weight="normal" fill="#222" >BCL6</text>
<text x="289.6" y="362.4" font-size="8.8" text-anchor="start" font-weight="normal" fill="#222" >β-actin</text>
</g>
<g id="flow">
<polygon points="209.4,492.3 206.6,498.6 212.2,498.6" fill="#000"/>
<line x1="209.4" y1="498" x2="209.4" y2="506.2" stroke="#111" stroke-width="1" />
<text transform="translate(212.2 526.8) rotate(-90)" font-size="8.1" text-anchor="middle" font-weight="normal" fill="#111">CD20</text>
<line x1="209.2" y1="544" x2="209.2" y2="551" stroke="#111" stroke-width="1" />
<line x1="226" y1="562.3" x2="296.4" y2="562.3" stroke="#222" stroke-width="0.85" />
<text x="316.5" y="564.6" font-size="8.3" text-anchor="middle" font-weight="normal" fill="#111" >CD38</text>
<line x1="343" y1="562" x2="412" y2="562" stroke="#222" stroke-width="0.85" />
<polygon points="417.2,562 411,559.3 411,564.7" fill="#000"/>
<clipPath id="fc1"><rect x="224.4" y="493.4" width="56.3" height="55.8"/></clipPath>
<g clip-path="url(#fc1)"><g filter="url(#b03)">
<path d="M240,530 C240,522 247,520 248,526 C251,523 256,527 258,531" fill="none" stroke="#ccc" stroke-width="0.6"/>
<path d="M243,529 C243,525 246,524 246,528" fill="none" stroke="#ccc" stroke-width="0.5"/>
<ellipse cx="231.5" cy="541.5" rx="4.6" ry="6.2" fill="#d8d8d8" stroke="#777" stroke-width="0.5"/>
<ellipse cx="231.8" cy="542" rx="3" ry="4.4" fill="#c4c4c4" stroke="#888" stroke-width="0.4"/>
<circle cx="227" cy="545.8" r="1.5" fill="#fff" stroke="#555" stroke-width="0.5"/>
<ellipse cx="246.6" cy="541.9" rx="16.2" ry="7.4" fill="#efefef" stroke="#555" stroke-width="0.4"/>
<ellipse cx="246.6" cy="541.9" rx="14.4" ry="6.7" fill="#c4c4c4" stroke="#4a4a4a" stroke-width="0.4"/>
<ellipse cx="246.6" cy="541.9" rx="12.6" ry="6.0" fill="#888" stroke="#444" stroke-width="0.4"/>
<ellipse cx="246.6" cy="541.9" rx="10.8" ry="5.3" fill="#4c4c4c" stroke="#333" stroke-width="0.4"/>
<ellipse cx="246.6" cy="541.9" rx="9.2" ry="4.5" fill="#242424" stroke="#222" stroke-width="0.4"/>
<ellipse cx="246.6" cy="541.9" rx="7.4" ry="3.6" fill="#080808" stroke="#000" stroke-width="0.4"/>
<ellipse cx="246.8" cy="542.5" rx="2.6" ry="0.7" fill="#e8e8e8"/>
<path d="M229.2,540 L229.2,526 C229.2,519.5 238.4,519.5 238.4,526 L238.4,529.5 C239.5,532 248,531 256,534.5" fill="none" stroke="#444" stroke-width="0.6"/>
<path d="M231.3,538 L231.3,527 C231.3,522.6 236.3,522.6 236.3,527 L236.3,531 C238,534 246,533 252,535.4" fill="none" stroke="#555" stroke-width="0.55"/>
</g></g>
<text x="252.4" y="488" font-size="8" text-anchor="middle" font-weight="bold" fill="#000"  stroke="#000" stroke-width="0.25">CTRL</text>
<line x1="241.6" y1="489.2" x2="263.4" y2="489.2" stroke="#000" stroke-width="0.9" />
<rect x="224.4" y="493.4" width="56.3" height="55.8" fill="none" stroke="#5c5c5c" stroke-width="0.85"/>
<line x1="236.9" y1="493.4" x2="236.9" y2="549.2" stroke="#777" stroke-width="0.7" />
<line x1="224.4" y1="535.4" x2="280.7" y2="535.4" stroke="#777" stroke-width="0.7" />
<text transform="translate(226 501) scale(0.92 1)" font-size="8.5" font-weight="bold" text-anchor="start" fill="#000" stroke="#000" stroke-width="0.2">5</text>
<text x="279.6" y="500.4" font-size="6.4" text-anchor="end" font-weight="normal" fill="#888" >4</text>
<text transform="translate(280.2 548) scale(0.92 1)" font-size="8.5" font-weight="bold" text-anchor="end" fill="#000" stroke="#000" stroke-width="0.2">81</text>
<text x="222.8" y="499" font-size="3.1" text-anchor="end" font-weight="normal" fill="#5a5a5a" >10<tspan dy="-0.8" font-size="1.9">5</tspan></text>
<text x="222.8" y="512.5" font-size="3.1" text-anchor="end" font-weight="normal" fill="#5a5a5a" >10<tspan dy="-0.8" font-size="1.9">4</tspan></text>
<text x="222.8" y="525.3" font-size="3.1" text-anchor="end" font-weight="normal" fill="#5a5a5a" >10<tspan dy="-0.8" font-size="1.9">3</tspan></text>
<text x="222.8" y="538.8" font-size="3.1" text-anchor="end" font-weight="normal" fill="#5a5a5a" >10<tspan dy="-0.8" font-size="1.9">2</tspan></text>
<text x="222.8" y="544.2" font-size="3.1" text-anchor="end" font-weight="normal" fill="#5a5a5a" >0</text>
<text x="229.8" y="554.8" font-size="3.1" text-anchor="middle" font-weight="normal" fill="#5a5a5a" >0</text>
<text x="236.5" y="554.8" font-size="3.1" text-anchor="middle" font-weight="normal" fill="#5a5a5a" >10<tspan dy="-0.8" font-size="1.9">2</tspan></text>
<text x="249.7" y="554.8" font-size="3.1" text-anchor="middle" font-weight="normal" fill="#5a5a5a" >10<tspan dy="-0.8" font-size="1.9">3</tspan></text>
<text x="262.1" y="554.8" font-size="3.1" text-anchor="middle" font-weight="normal" fill="#5a5a5a" >10<tspan dy="-0.8" font-size="1.9">4</tspan></text>
<text x="274.2" y="554.8" font-size="3.1" text-anchor="middle" font-weight="normal" fill="#5a5a5a" >10<tspan dy="-0.8" font-size="1.9">5</tspan></text>
<clipPath id="fc2"><rect x="292.2" y="492.0" width="56.1" height="55.9"/></clipPath>
<g clip-path="url(#fc2)"><g filter="url(#b03)">
<path d="M293.8,541.8 L293.8,525 C293.8,517.5 301,516.5 305.9,522.3 C308.5,526 308.5,529 310.6,531 C313,534 318,533.5 320.5,536.5 C323,539.5 322.5,543 319.3,544.5 C314,546.8 305,546.8 301.8,546.5 L293.8,546.5 Z" transform="translate(301.5 538.5) scale(1) translate(-301.5 -538.5)" fill="#fafafa" stroke="#1a1a1a" stroke-width="0.6"/>
<path d="M293.8,541.8 L293.8,525 C293.8,517.5 301,516.5 305.9,522.3 C308.5,526 308.5,529 310.6,531 C313,534 318,533.5 320.5,536.5 C323,539.5 322.5,543 319.3,544.5 C314,546.8 305,546.8 301.8,546.5 L293.8,546.5 Z" transform="translate(301.5 538.5) scale(0.92) translate(-301.5 -538.5)" fill="#d4d4d4" stroke="#333" stroke-width="0.44"/>
<path d="M293.8,541.8 L293.8,525 C293.8,517.5 301,516.5 305.9,522.3 C308.5,526 308.5,529 310.6,531 C313,534 318,533.5 320.5,536.5 C323,539.5 322.5,543 319.3,544.5 C314,546.8 305,546.8 301.8,546.5 L293.8,546.5 Z" transform="translate(301.5 538.5) scale(0.83) translate(-301.5 -538.5)" fill="#8e8e8e" stroke="#3a3a3a" stroke-width="0.48"/>
<path d="M293.8,541.8 L293.8,525 C293.8,517.5 301,516.5 305.9,522.3 C308.5,526 308.5,529 310.6,531 C313,534 318,533.5 320.5,536.5 C323,539.5 322.5,543 319.3,544.5 C314,546.8 305,546.8 301.8,546.5 L293.8,546.5 Z" transform="translate(301.5 538.5) scale(0.74) translate(-301.5 -538.5)" fill="#525252" stroke="#2a2a2a" stroke-width="0.54"/>
<path d="M293.8,541.8 L293.8,525 C293.8,517.5 301,516.5 305.9,522.3 C308.5,526 308.5,529 310.6,531 C313,534 318,533.5 320.5,536.5 C323,539.5 322.5,543 319.3,544.5 C314,546.8 305,546.8 301.8,546.5 L293.8,546.5 Z" transform="translate(301.5 538.5) scale(0.66) translate(-301.5 -538.5)" fill="#262626" stroke="#1a1a1a" stroke-width="0.61"/>
<path d="M293.8,541.8 L293.8,525 C293.8,517.5 301,516.5 305.9,522.3 C308.5,526 308.5,529 310.6,531 C313,534 318,533.5 320.5,536.5 C323,539.5 322.5,543 319.3,544.5 C314,546.8 305,546.8 301.8,546.5 L293.8,546.5 Z" transform="translate(301.5 538.5) scale(0.57) translate(-301.5 -538.5)" fill="#080808" stroke="#000" stroke-width="0.7"/>
<path d="M300.5,527 L300.5,539.8 L315,540.6" fill="none" stroke="#cfcfcf" stroke-width="0.8" stroke-linecap="round"/>
<circle cx="300.6" cy="539.8" r="0.9" fill="#fff"/>
</g></g>
<rect x="292.6" y="541.6" width="8.6" height="6" fill="#fff" />
<text x="293" y="547.4" font-size="6.2" text-anchor="start" font-weight="normal" fill="#777" >34</text>
<text x="320.8" y="487.4" font-size="8" text-anchor="middle" font-weight="bold" fill="#000"  stroke="#000" stroke-width="0.25">FOXP1</text>
<line x1="307.6" y1="488.6" x2="334.2" y2="488.6" stroke="#000" stroke-width="0.9" />
<rect x="292.2" y="492" width="56.1" height="55.9" fill="none" stroke="#5c5c5c" stroke-width="0.85"/>
<line x1="303.9" y1="492" x2="303.9" y2="547.9" stroke="#777" stroke-width="0.7" />
<line x1="292.2" y1="534.4" x2="348.3" y2="534.4" stroke="#777" stroke-width="0.7" />
<text transform="translate(293.2 499.6) scale(0.92 1)" font-size="8.5" font-weight="bold" text-anchor="start" fill="#000" stroke="#000" stroke-width="0.2">22</text>
<text x="347.2" y="499" font-size="6.4" text-anchor="end" font-weight="normal" fill="#888" >6</text>
<text transform="translate(347.6 547.3) scale(0.92 1)" font-size="8.5" font-weight="bold" text-anchor="end" fill="#000" stroke="#000" stroke-width="0.2">38</text>
<text x="290.6" y="497.6" font-size="3.1" text-anchor="end" font-weight="normal" fill="#5a5a5a" >10<tspan dy="-0.8" font-size="1.9">5</tspan></text>
<text x="290.6" y="511.1" font-size="3.1" text-anchor="end" font-weight="normal" fill="#5a5a5a" >10<tspan dy="-0.8" font-size="1.9">4</tspan></text>
<text x="290.6" y="523.9" font-size="3.1" text-anchor="end" font-weight="normal" fill="#5a5a5a" >10<tspan dy="-0.8" font-size="1.9">3</tspan></text>
<text x="290.6" y="537.4" font-size="3.1" text-anchor="end" font-weight="normal" fill="#5a5a5a" >10<tspan dy="-0.8" font-size="1.9">2</tspan></text>
<text x="290.6" y="542.8" font-size="3.1" text-anchor="end" font-weight="normal" fill="#5a5a5a" >0</text>
<text x="297.6" y="553.5" font-size="3.1" text-anchor="middle" font-weight="normal" fill="#5a5a5a" >0</text>
<text x="304.3" y="553.5" font-size="3.1" text-anchor="middle" font-weight="normal" fill="#5a5a5a" >10<tspan dy="-0.8" font-size="1.9">2</tspan></text>
<text x="317.5" y="553.5" font-size="3.1" text-anchor="middle" font-weight="normal" fill="#5a5a5a" >10<tspan dy="-0.8" font-size="1.9">3</tspan></text>
<text x="329.9" y="553.5" font-size="3.1" text-anchor="middle" font-weight="normal" fill="#5a5a5a" >10<tspan dy="-0.8" font-size="1.9">4</tspan></text>
<text x="342" y="553.5" font-size="3.1" text-anchor="middle" font-weight="normal" fill="#5a5a5a" >10<tspan dy="-0.8" font-size="1.9">5</tspan></text>
<clipPath id="fc3"><rect x="360.2" y="492.3" width="56.5" height="55.6"/></clipPath>
<g clip-path="url(#fc3)"><g filter="url(#b03)">
<path d="M361.8,541 L361.8,525.7 C361.8,517 369,516 374.6,521 C378,524 380.5,525.5 383.3,527 C386.5,529 388.5,531.5 389.4,534.4 C390.8,537.5 390.6,540.5 386,543.2 C381,545.5 375,545.5 372.5,545.2 L361.8,545.2 Z" transform="translate(369.5 536.5) scale(1) translate(-369.5 -536.5)" fill="#fafafa" stroke="#1a1a1a" stroke-width="0.6"/>
<path d="M361.8,541 L361.8,525.7 C361.8,517 369,516 374.6,521 C378,524 380.5,525.5 383.3,527 C386.5,529 388.5,531.5 389.4,534.4 C390.8,537.5 390.6,540.5 386,543.2 C381,545.5 375,545.5 372.5,545.2 L361.8,545.2 Z" transform="translate(369.5 536.5) scale(0.91) translate(-369.5 -536.5)" fill="#d4d4d4" stroke="#333" stroke-width="0.44"/>
<path d="M361.8,541 L361.8,525.7 C361.8,517 369,516 374.6,521 C378,524 380.5,525.5 383.3,527 C386.5,529 388.5,531.5 389.4,534.4 C390.8,537.5 390.6,540.5 386,543.2 C381,545.5 375,545.5 372.5,545.2 L361.8,545.2 Z" transform="translate(369.5 536.5) scale(0.82) translate(-369.5 -536.5)" fill="#8e8e8e" stroke="#3a3a3a" stroke-width="0.49"/>
<path d="M361.8,541 L361.8,525.7 C361.8,517 369,516 374.6,521 C378,524 380.5,525.5 383.3,527 C386.5,529 388.5,531.5 389.4,534.4 C390.8,537.5 390.6,540.5 386,543.2 C381,545.5 375,545.5 372.5,545.2 L361.8,545.2 Z" transform="translate(369.5 536.5) scale(0.73) translate(-369.5 -536.5)" fill="#525252" stroke="#2a2a2a" stroke-width="0.55"/>
<path d="M361.8,541 L361.8,525.7 C361.8,517 369,516 374.6,521 C378,524 380.5,525.5 383.3,527 C386.5,529 388.5,531.5 389.4,534.4 C390.8,537.5 390.6,540.5 386,543.2 C381,545.5 375,545.5 372.5,545.2 L361.8,545.2 Z" transform="translate(369.5 536.5) scale(0.64) translate(-369.5 -536.5)" fill="#262626" stroke="#1a1a1a" stroke-width="0.62"/>
<path d="M361.8,541 L361.8,525.7 C361.8,517 369,516 374.6,521 C378,524 380.5,525.5 383.3,527 C386.5,529 388.5,531.5 389.4,534.4 C390.8,537.5 390.6,540.5 386,543.2 C381,545.5 375,545.5 372.5,545.2 L361.8,545.2 Z" transform="translate(369.5 536.5) scale(0.55) translate(-369.5 -536.5)" fill="#080808" stroke="#000" stroke-width="0.73"/>
<path d="M368.8,528 L369.6,537" fill="none" stroke="#777" stroke-width="0.7" stroke-linecap="round"/>
<path d="M371,538 L380,539" fill="none" stroke="#666" stroke-width="1.2" stroke-linecap="round"/>
<circle cx="369.8" cy="537.1" r="1" fill="#fff"/>
</g></g>
<rect x="360.6" y="541.6" width="9" height="6" fill="#fff" />
<text x="361" y="547.4" font-size="6.2" text-anchor="start" font-weight="normal" fill="#777" >30</text>
<text x="388.6" y="487.2" font-size="8" text-anchor="middle" font-weight="bold" fill="#000"  stroke="#000" stroke-width="0.25">BCL6</text>
<line x1="377.8" y1="488.4" x2="399.2" y2="488.4" stroke="#000" stroke-width="0.9" />
<rect x="360.2" y="492.3" width="56.5" height="55.6" fill="none" stroke="#5c5c5c" stroke-width="0.85"/>
<line x1="372.5" y1="492.3" x2="372.5" y2="547.9" stroke="#777" stroke-width="0.7" />
<line x1="360.2" y1="534.4" x2="416.7" y2="534.4" stroke="#777" stroke-width="0.7" />
<text transform="translate(361 499.8) scale(0.92 1)" font-size="8.5" font-weight="bold" text-anchor="start" fill="#000" stroke="#000" stroke-width="0.2">29</text>
<text x="415.8" y="499.2" font-size="6.4" text-anchor="end" font-weight="normal" fill="#888" >14</text>
<text transform="translate(416 547.3) scale(0.92 1)" font-size="8.5" font-weight="bold" text-anchor="end" fill="#000" stroke="#000" stroke-width="0.2">27</text>
<text x="358.6" y="497.8" font-size="3.1" text-anchor="end" font-weight="normal" fill="#5a5a5a" >10<tspan dy="-0.8" font-size="1.9">5</tspan></text>
<text x="358.6" y="511.3" font-size="3.1" text-anchor="end" font-weight="normal" fill="#5a5a5a" >10<tspan dy="-0.8" font-size="1.9">4</tspan></text>
<text x="358.6" y="524.1" font-size="3.1" text-anchor="end" font-weight="normal" fill="#5a5a5a" >10<tspan dy="-0.8" font-size="1.9">3</tspan></text>
<text x="358.6" y="537.6" font-size="3.1" text-anchor="end" font-weight="normal" fill="#5a5a5a" >10<tspan dy="-0.8" font-size="1.9">2</tspan></text>
<text x="358.6" y="543" font-size="3.1" text-anchor="end" font-weight="normal" fill="#5a5a5a" >0</text>
<text x="365.6" y="553.5" font-size="3.1" text-anchor="middle" font-weight="normal" fill="#5a5a5a" >0</text>
<text x="372.3" y="553.5" font-size="3.1" text-anchor="middle" font-weight="normal" fill="#5a5a5a" >10<tspan dy="-0.8" font-size="1.9">2</tspan></text>
<text x="385.5" y="553.5" font-size="3.1" text-anchor="middle" font-weight="normal" fill="#5a5a5a" >10<tspan dy="-0.8" font-size="1.9">3</tspan></text>
<text x="397.9" y="553.5" font-size="3.1" text-anchor="middle" font-weight="normal" fill="#5a5a5a" >10<tspan dy="-0.8" font-size="1.9">4</tspan></text>
<text x="410" y="553.5" font-size="3.1" text-anchor="middle" font-weight="normal" fill="#5a5a5a" >10<tspan dy="-0.8" font-size="1.9">5</tspan></text>
</g>
<g id="scatter">
<line x1="482.7" y1="441.3" x2="482.7" y2="545.7" stroke="#222" stroke-width="1.1" />
<line x1="482.2" y1="545.2" x2="520" y2="545.2" stroke="#222" stroke-width="1.1" />
<line x1="480.3" y1="545.2" x2="482.7" y2="545.2" stroke="#222" stroke-width="1" />
<text x="480.3" y="547.3" font-size="5.7" text-anchor="end" font-weight="bold" fill="#000"  stroke="#000" stroke-width="0.15">0</text>
<line x1="480.3" y1="498.35" x2="482.7" y2="498.35" stroke="#222" stroke-width="1" />
<text x="480.3" y="500.45" font-size="5.7" text-anchor="end" font-weight="bold" fill="#000"  stroke="#000" stroke-width="0.15">50</text>
<line x1="480.3" y1="451.5" x2="482.7" y2="451.5" stroke="#222" stroke-width="1" />
<text x="480.3" y="453.6" font-size="5.7" text-anchor="end" font-weight="bold" fill="#000"  stroke="#000" stroke-width="0.15">100</text>
<line x1="489" y1="545.2" x2="489" y2="547.5" stroke="#222" stroke-width="1" />
<line x1="500.5" y1="545.2" x2="500.5" y2="547.5" stroke="#222" stroke-width="1" />
<line x1="512.3" y1="545.2" x2="512.3" y2="547.5" stroke="#222" stroke-width="1" />
<text transform="translate(490.9 553.8) rotate(-45)" font-size="6.4" text-anchor="end" font-weight="bold" fill="#000" stroke="#000" stroke-width="0.15">ctrl</text>
<text transform="translate(502.4 553.8) rotate(-45)" font-size="6.4" text-anchor="end" font-weight="bold" fill="#000" stroke="#000" stroke-width="0.15">FOXP1</text>
<text transform="translate(514.2 553.8) rotate(-45)" font-size="6.4" text-anchor="end" font-weight="bold" fill="#000" stroke="#000" stroke-width="0.15">BCL6</text>
<line x1="484.8" y1="451.5" x2="493" y2="451.5" stroke="#000" stroke-width="1.7" />
<rect x="498.95" y="476.85" width="2.9" height="2.9" fill="#000" />
<rect x="496.95" y="482.95" width="2.9" height="2.9" fill="#000" />
<rect x="501.05" y="483.95" width="2.9" height="2.9" fill="#000" />
<rect x="498.55" y="485.55" width="2.9" height="2.9" fill="#000" />
<rect x="500.55" y="488.05" width="2.9" height="2.9" fill="#000" />
<rect x="496.95" y="489.55" width="2.9" height="2.9" fill="#000" />
<rect x="498.95" y="490.75" width="2.9" height="2.9" fill="#000" />
<rect x="498.95" y="499.85" width="2.9" height="2.9" fill="#000" />
<rect x="497.95" y="502.95" width="2.9" height="2.9" fill="#000" />
<rect x="500.55" y="503.45" width="2.9" height="2.9" fill="#000" />
<rect x="496.95" y="504.45" width="2.9" height="2.9" fill="#000" />
<rect x="498.95" y="505.45" width="2.9" height="2.9" fill="#000" />
<rect x="498.95" y="514.15" width="2.9" height="2.9" fill="#000" />
<line x1="496.2" y1="495.7" x2="504.6" y2="495.7" stroke="#000" stroke-width="1" />
<line x1="500.4" y1="492.6" x2="500.4" y2="499.3" stroke="#000" stroke-width="0.9" />
<line x1="498.2" y1="492.6" x2="502.8" y2="492.6" stroke="#000" stroke-width="0.9" />
<line x1="498.2" y1="499.3" x2="502.8" y2="499.3" stroke="#000" stroke-width="0.9" />
<text x="500.55" y="476.46" font-size="6.6" text-anchor="middle" font-weight="normal" fill="#000" letter-spacing="0.25" stroke="#000" stroke-width="0.12">***</text>
<polygon points="512.5,485.5 511,488.1 514,488.1" fill="#808080"/>
<polygon points="510.2,488.5 508.7,491.1 511.7,491.1" fill="#808080"/>
<polygon points="514.8,489.9 513.3,492.5 516.3,492.5" fill="#808080"/>
<polygon points="512.5,493.2 511,495.8 514,495.8" fill="#808080"/>
<polygon points="510.5,494.2 509,496.8 512,496.8" fill="#808080"/>
<polygon points="512.7,503.9 511.2,506.5 514.2,506.5" fill="#808080"/>
<polygon points="514.8,508.5 513.3,511.1 516.3,511.1" fill="#808080"/>
<polygon points="510.7,510.7 509.2,513.3 512.2,513.3" fill="#808080"/>
<polygon points="512.7,510.3 511.2,512.9 514.2,512.9" fill="#808080"/>
<polygon points="512.5,519.2 511,521.8 514,521.8" fill="#808080"/>
<line x1="508.1" y1="501.6" x2="516.9" y2="501.6" stroke="#000" stroke-width="1" />
<line x1="512.6" y1="499.8" x2="512.6" y2="503.7" stroke="#000" stroke-width="0.9" />
<line x1="510.2" y1="499.8" x2="515.2" y2="499.8" stroke="#000" stroke-width="0.9" />
<line x1="510.2" y1="503.7" x2="515.2" y2="503.7" stroke="#000" stroke-width="0.9" />
<text x="512.75" y="487.26" font-size="6.6" text-anchor="middle" font-weight="normal" fill="#000" letter-spacing="0.25" stroke="#000" stroke-width="0.12">***</text>
<text transform="translate(454.2 492.2) rotate(-90)" font-size="8.1" text-anchor="middle" font-weight="normal" fill="#111">Relative %</text>
<text transform="translate(463.6 491) rotate(-90)" font-size="8.1" text-anchor="middle" fill="#111">CD38<tspan dy="-3" font-size="5">+</tspan><tspan dy="3"> CD20</tspan><tspan dy="-3" font-size="5">-</tspan><tspan dy="3"> cells</tspan></text>
</g>
</g>
</svg></body></html>
